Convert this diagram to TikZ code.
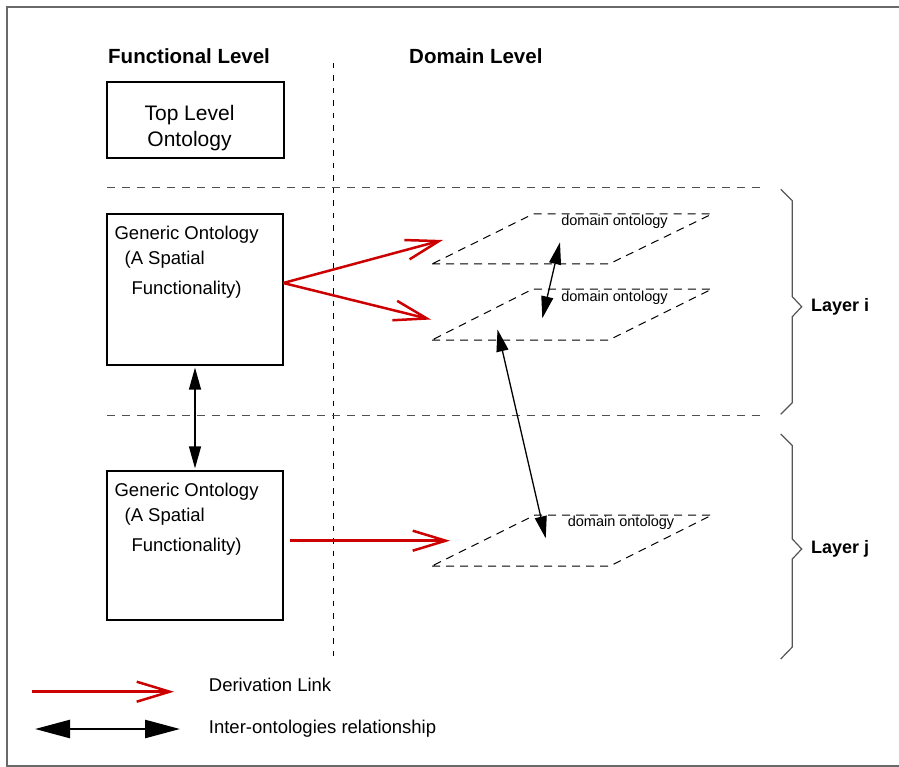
\documentclass[tikz,border=0pt]{standalone}
\usepackage{fontspec}
\setmainfont{Liberation Sans}
\usetikzlibrary{arrows.meta}
\definecolor{derivred}{RGB}{204,0,0}
\definecolor{framegray}{RGB}{105,105,105}
\definecolor{bracegray}{RGB}{85,85,85}
\definecolor{sepgray}{RGB}{80,80,80}

\begin{document}
\begin{tikzpicture}[x=1pt,y=-1pt,
  header/.style={font=\bfseries\fontsize{20.5}{24}\selectfont, inner sep=0pt},
  boxtext/.style={font=\fontsize{18.5}{22}\selectfont, inner sep=0pt, anchor=base west},
  legtext/.style={font=\fontsize{18.5}{22}\selectfont, inner sep=0pt, anchor=west},
  domtext/.style={font=\fontsize{14.5}{17}\selectfont, inner sep=0pt},
  layertext/.style={font=\bfseries\fontsize{18}{21}\selectfont, inner sep=0pt, anchor=west},
  ontobox/.style={draw, line width=1.2pt, minimum width=176pt, minimum height=151pt, inner sep=0pt},
  domplane/.style={draw, line width=1pt, dash pattern=on 8pt off 6pt},
  separator/.style={draw=sepgray, line width=1pt, dash pattern=on 7.5pt off 7.5pt},
  levelsep/.style={draw, line width=1pt, dash pattern=on 5.5pt off 7pt},
  derive/.style={draw=derivred, line width=2.5pt,
    -{Straight Barb[length=33pt, width=20pt, line width=2.5pt]}},
  interrel/.style={draw, line width=1.3pt,
    {Triangle[length=22pt, width=12pt]}-{Triangle[length=22pt, width=12pt]}},
  legrel/.style={draw, line width=2.5pt,
    {Triangle[length=35pt, width=18pt]}-{Triangle[length=35pt, width=18pt]}},
  bracket/.style={draw=bracegray, line width=1.2pt, line join=miter}
]
\useasboundingbox (0,0) rectangle (899,767);

% outer frame (its right side lies beyond the page)
\draw[framegray, line width=1.5pt] (899,7) -- (7,7) -- (7,766) -- (899,766);

% column headers
\node[header, anchor=base west] (hfun) at (108,64) {Functional Level};
\node[header, anchor=base west] (hdom) at (409,64) {Domain Level};

% separators
\draw[levelsep] (333,63) -- (333,660);
\draw[separator] (107,188) -- (763,188);
\draw[separator] (107,415) -- (763,415);

% top level ontology
\node[draw, line width=2.2pt, minimum width=177pt, minimum height=76pt, inner sep=0pt]
  (top) at (195.5,120) {};
\node[font=\fontsize{21}{25.5}\selectfont, align=center, inner sep=0pt]
  (toptext) at (189.5,128.3) {Top Level\\Ontology};

% generic ontologies
\node[ontobox] (gen1) at (195,289.5) {};
\node[ontobox, minimum height=149pt] (gen2) at (195,545.5) {};
\foreach \g in {gen1,gen2}{
  \node[boxtext] (\g l1) at ([shift={(8,26)}]\g.north west) {Generic Ontology};
  \node[boxtext] (\g l2) at ([shift={(18,51)}]\g.north west) {(A Spatial};
  \node[boxtext] (\g l3) at ([shift={(25,81)}]\g.north west) {Functionality)};
}

% domain ontology planes
\draw[domplane] (432,264) -- (609,264) -- (712,214) -- (533,214) -- cycle;
\draw[domplane] (432,340) -- (609,340) -- (712,289) -- (533,289) -- cycle;
\draw[domplane] (432,566) -- (610,566) -- (712,515) -- (535,515) -- cycle;
\node[domtext] (dom1) at (614.5,222) {domain ontology};
\node[domtext] (dom2) at (614.5,297.3) {domain ontology};
\node[domtext] (dom3) at (621,523) {domain ontology};

% connector end points
\coordinate (r0) at (283.3,283);
\coordinate (t1) at (443,240);
\coordinate (t2) at (431,319.5);
\coordinate (r3) at (290,540.7);
\coordinate (t3) at (450,540.7);
\coordinate (d1a) at (560,242.3);
\coordinate (d1b) at (542.3,318.3);
\coordinate (lna) at (497.5,329.5);
\coordinate (lnb) at (545.7,538.3);

% derivation links
\draw[derive] (r0) -- (t1);
\draw[derive] (r0) -- (t2);
\draw[derive] (r3) -- (t3);

% inter-ontology relationships
\draw[interrel, shorten <=2pt, shorten >=2pt] (gen1.south) -- (gen2.north);
\draw[interrel] (d1a) -- (d1b);
\draw[interrel] (lna) -- (lnb);

% layer braces
\draw[bracket] (780.7,189.3) -- (792.3,200.7) -- (792.3,296.7) -- (801.7,306.7)
  -- (792.3,316.7) -- (792.3,402.7) -- (780.7,414.3);
\draw[bracket] (780.7,434) -- (792.3,445.5) -- (792.3,539) -- (801.7,549)
  -- (792.3,559) -- (792.3,647) -- (780.7,659);
\node[layertext] (li) at (811,306.7) {Layer i};
\node[layertext] (lj) at (811,549) {Layer j};

% legend
\coordinate (lg1s) at (32,691.7);
\coordinate (lg1e) at (174,691.7);
\coordinate (lg2s) at (35,729);
\coordinate (lg2e) at (180,729);
\draw[derive] (lg1s) -- (lg1e);
\draw[legrel] (lg2s) -- (lg2e);
\node[legtext] (legd) at (208.7,685) {Derivation Link};
\node[legtext] (legi) at (208.7,729) {Inter-ontologies relationship};
\end{tikzpicture}
\end{document}
